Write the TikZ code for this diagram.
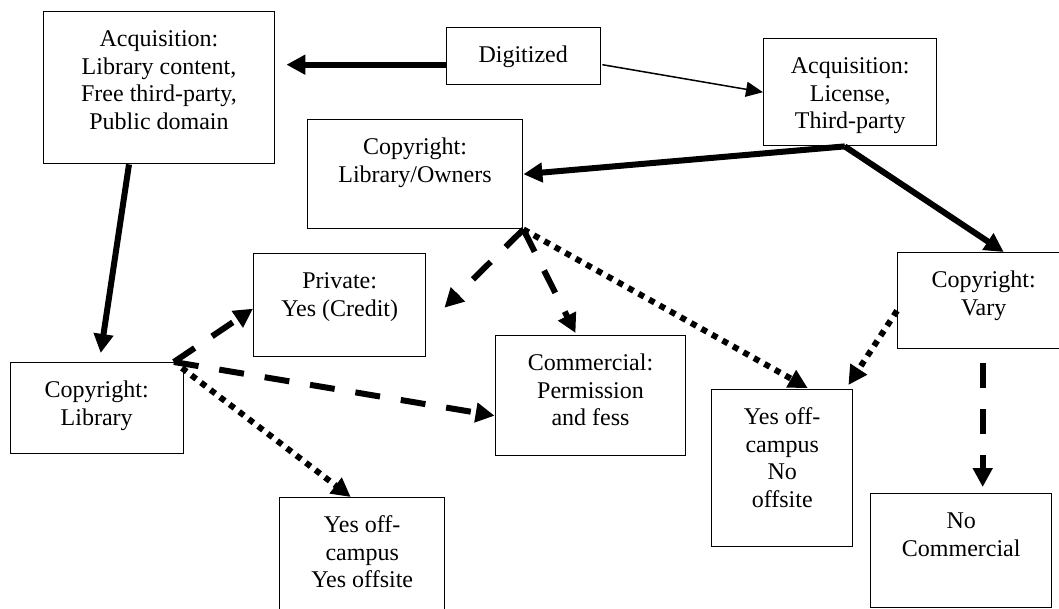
\documentclass[tikz,border=0pt]{standalone}
\usepackage{fontspec}
\setmainfont{Liberation Serif}
\usetikzlibrary{arrows.meta}

\newcommand{\boxtext}[3]{\parbox[t][#2][t]{#1}{\centering\rule{0pt}{17.5pt}#3}}

\begin{document}
\begin{tikzpicture}[x=0.5pt, y=-0.5pt,
  block/.style={draw, line width=0.7pt, inner sep=0pt, anchor=north west,
    font=\fontsize{12pt}{13.8pt}\selectfont},
  solidarrow/.style={-{Triangle[length=9.5pt,width=9.5pt]}, line width=3pt},
  thinarrow/.style={-{Triangle[length=8.5pt,width=7.5pt]}, line width=0.75pt},
  dasharrow/.style={solidarrow, dash pattern=on 12.5pt off 10.5pt},
  dotarrow/.style={solidarrow, dash pattern=on 3pt off 3pt}]
  \useasboundingbox (0,0) rectangle (1059,609);

  \node[block] (acqlib) at (42.6,11) {\boxtext{115.7pt}{76pt}{Acquisition:\\Library content,\\Free third-party,\\Public domain}};
  \node[block] (digit) at (445.5,27) {\boxtext{77pt}{28.5pt}{Digitized}};
  \node[block] (license) at (763,38) {\boxtext{86.5pt}{53.5pt}{Acquisition:\\License,\\Third-party}};
  \node[block] (owners) at (306.6,119) {\boxtext{107.7pt}{54.5pt}{Copyright:\\Library/Owners}};
  \node[block] (private) at (253,253) {\boxtext{86pt}{51.5pt}{Private:\\Yes (Credit)}};
  \node[block] (vary) at (897,252) {\boxtext{86pt}{48pt}{Copyright:\\Vary}};
  \node[block] (copylib) at (9.5,362) {\boxtext{86.5pt}{45.5pt}{Copyright:\\Library}};
  \node[block] (commerc) at (494.6,335) {\boxtext{95.2pt}{60pt}{Commercial:\\Permission\\and fess}};
  \node[block] (yesno) at (711,389) {\boxtext{70.5pt}{78.5pt}{Yes off-\\campus\\No\\offsite}};
  \node[block] (yesyes) at (279,497) {\boxtext{82.5pt}{65pt}{Yes off-\\campus\\Yes offsite}};
  \node[block] (nocom) at (870,493) {\boxtext{90.5pt}{57pt}{No\\Commercial}};

  \draw[solidarrow] ([shift={(0,8.5)}]digit.west) -- ([shift={(11,-23)}]acqlib.east);
  \draw[thinarrow] ([shift={(1.5,8.5)}]digit.east) -- (license.west);
  \draw[solidarrow] ([shift={(-5.5,0)}]license.south) -- (owners.east);
  \draw[solidarrow] ([shift={(-5.5,0)}]license.south) -- ([shift={(20,0)}]vary.north);
  \draw[solidarrow] ([shift={(-30,0)}]acqlib.south) -- ([shift={(4,-9)}]copylib.north);
  \draw[dasharrow] (owners.south east) -- ([shift={(18,2.5)}]private.east);
  \draw[dasharrow] (owners.south east) -- ([shift={(-15,-2)}]commerc.north);
  \draw[dotarrow] (owners.south east) -- ([shift={(25.5,-1)}]yesno.north);
  \draw[dasharrow] ([shift={(-10,0)}]copylib.north east) -- ([shift={(0,3.5)}]private.west);
  \draw[dasharrow] ([shift={(-10,0)}]copylib.north east) -- ([shift={(0,20)}]commerc.west);
  \draw[dotarrow] ([shift={(-2,6)}]copylib.north east) -- ([shift={(-11.5,0)}]yesyes.north);
  \draw[dotarrow] ([shift={(0,10)}]vary.west) -- ([shift={(-5,-4)}]yesno.north east);
  \draw[dasharrow] ([shift={(-1,14)}]vary.south) -- ([shift={(21.5,-6)}]nocom.north);
\end{tikzpicture}
\end{document}
